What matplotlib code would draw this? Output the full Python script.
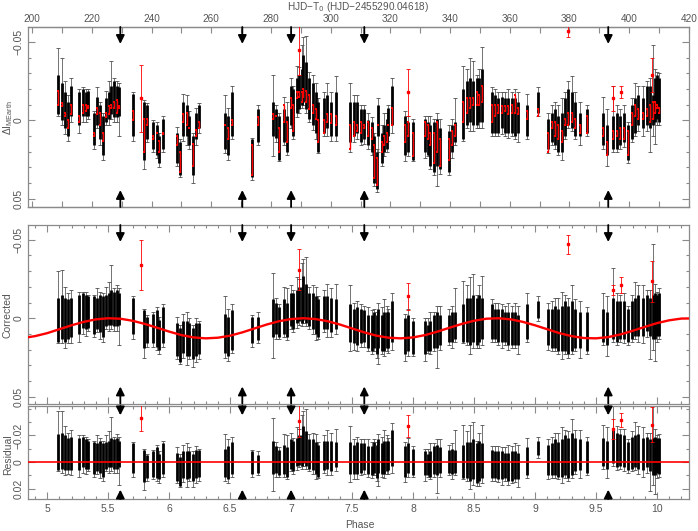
import numpy as np
import matplotlib
matplotlib.use("Agg")
import matplotlib.pyplot as plt
from matplotlib.ticker import MultipleLocator, FixedLocator, FuncFormatter

plt.rcParams['font.family'] = ['Liberation Sans', 'DejaVu Sans']

# one entry per night (column of points)
PHASE = [5.093, 5.120, 5.148, 5.167, 5.194, 5.265, 5.292, 5.320, 5.339, 5.385,
         5.407, 5.434, 5.456, 5.484, 5.505, 5.527, 5.549, 5.576, 5.593, 5.702,
         5.795, 5.822, 5.871, 5.899, 5.921, 5.953, 6.068, 6.090, 6.117, 6.145,
         6.167, 6.194, 6.221, 6.249,
         6.459, 6.486, 6.514, 6.678, 6.732, 6.850, 6.877, 6.904, 6.943, 6.970,
         6.997, 7.019, 7.047, 7.066, 7.087, 7.101, 7.123, 7.150, 7.178, 7.205,
         7.224, 7.271, 7.298, 7.325, 7.366, 7.484, 7.516, 7.544, 7.571, 7.598,
         7.634, 7.661, 7.680, 7.702, 7.716, 7.743, 7.762, 7.784, 7.798, 7.831,
         7.934, 7.962, 8.003, 8.098, 8.120, 8.139, 8.172, 8.194, 8.221, 8.298,
         8.317, 8.344, 8.413, 8.440, 8.467, 8.494, 8.522, 8.544, 8.563, 8.645,
         8.672, 8.699, 8.727, 8.754, 8.781, 8.809, 8.836, 8.863,
         8.932, 9.027, 9.109, 9.137, 9.164, 9.191, 9.218, 9.246, 9.273, 9.301,
         9.328, 9.369, 9.423, 9.560, 9.593, 9.642, 9.669, 9.697, 9.729, 9.765,
         9.792, 9.820, 9.847, 9.888, 9.915, 9.943, 9.964, 9.984, 10.003, 10.019]

# raw MEarth light curve: whisker top, core top, core bottom, whisker bottom
RAW_WLO = [-0.046, -0.040, -0.025, -0.016, -0.027, -0.020, -0.021, -0.020, -0.020, -0.006,
           -0.021, -0.012, -0.005, -0.019, -0.025, -0.038, -0.027, -0.025, -0.024, -0.018,
           -0.013, -0.011, 0.000, 0.001, 0.008, -0.003, 0.004, 0.012, -0.017, -0.016,
           -0.006, 0.008, -0.008, -0.011,
           -0.016, -0.008, -0.022, 0.011, -0.010, -0.029, -0.010, -0.005, -0.015, -0.012,
           -0.027, -0.022, -0.035, -0.034, -0.048, -0.053, -0.054, -0.031, -0.029, -0.024,
           -0.014, -0.018, -0.024, -0.018, -0.028, -0.024, -0.016, -0.016, -0.010, -0.010,
           -0.005, -0.002, 0.008, 0.018, -0.014, 0.003, -0.005, -0.005, -0.010, -0.027,
           -0.006, -0.003, -0.001, -0.003, -0.003, -0.003, -0.001, -0.005, -0.001, 0.003,
           -0.001, -0.014, -0.035, -0.033, -0.040, -0.038, -0.029, -0.033, -0.047, -0.021,
           -0.020, -0.018, -0.018, -0.018, -0.020, -0.018, -0.020, -0.018,
           -0.017, -0.021, -0.005, -0.010, -0.012, -0.010, -0.014, -0.018, -0.025, -0.028,
           -0.018, -0.012, -0.010, -0.015, -0.007, -0.022, -0.010, -0.007, -0.010, 0.001,
           -0.014, -0.024, -0.022, -0.022, -0.025, -0.027, -0.048, -0.033, -0.031, -0.030]
RAW_LO = [-0.029, -0.024, -0.018, -0.012, -0.022, -0.018, -0.020, -0.018, -0.019, -0.005,
          -0.015, -0.010, -0.003, -0.014, -0.018, -0.022, -0.025, -0.022, -0.021, -0.017,
          -0.012, -0.010, 0.001, 0.003, 0.010, -0.001, 0.008, 0.014, -0.012, -0.010,
          -0.003, 0.010, -0.005, -0.010,
          -0.005, -0.003, -0.018, 0.012, -0.007, -0.012, -0.007, -0.003, -0.007, -0.003,
          -0.022, -0.020, -0.027, -0.029, -0.033, -0.042, -0.037, -0.027, -0.024, -0.018,
          -0.012, -0.014, -0.016, -0.012, -0.018, -0.012, -0.012, -0.012, -0.007, -0.007,
          0.000, 0.001, 0.010, 0.020, -0.010, 0.008, 0.003, -0.001, -0.008, -0.022,
          -0.003, 0.001, 0.001, -0.001, 0.001, 0.003, 0.001, -0.001, 0.005, 0.007,
          0.003, 0.001, -0.020, -0.025, -0.027, -0.025, -0.027, -0.027, -0.033, -0.018,
          -0.016, -0.014, -0.015, -0.014, -0.014, -0.014, -0.014, -0.012,
          -0.010, -0.018, -0.001, -0.005, -0.007, -0.003, -0.005, -0.014, -0.020, -0.018,
          -0.012, -0.005, -0.007, -0.005, 0.003, -0.003, -0.005, -0.003, -0.005, 0.003,
          -0.010, -0.014, -0.016, -0.014, -0.022, -0.022, -0.016, -0.027, -0.029, -0.027]
RAW_HI = [-0.004, 0.000, 0.005, 0.010, -0.003, 0.003, -0.003, -0.003, -0.003, 0.016,
          0.003, 0.012, 0.022, 0.001, -0.001, -0.004, -0.002, -0.002, -0.003, 0.010,
          0.025, 0.012, 0.018, 0.022, 0.027, 0.018, 0.027, 0.035, 0.010, 0.010,
          0.016, 0.035, 0.012, 0.005,
          0.018, 0.022, 0.010, 0.036, 0.014, 0.010, 0.011, 0.025, 0.014, 0.020,
          0.003, 0.010, -0.005, -0.007, -0.010, -0.012, -0.007, -0.001, 0.003, 0.008,
          0.020, 0.008, 0.005, 0.010, 0.010, 0.014, 0.010, 0.008, 0.014, 0.012,
          0.016, 0.020, 0.040, 0.044, 0.010, 0.027, 0.020, 0.018, 0.010, 0.003,
          0.022, 0.020, 0.025, 0.020, 0.022, 0.029, 0.033, 0.029, 0.031, 0.033,
          0.020, 0.014, 0.012, 0.003, 0.001, 0.003, 0.003, 0.001, 0.001, 0.008,
          0.008, 0.008, 0.005, 0.008, 0.008, 0.008, 0.010, 0.008,
          0.010, -0.005, 0.018, 0.014, 0.016, 0.020, 0.020, 0.010, 0.003, 0.005,
          0.010, 0.010, 0.008, 0.016, 0.022, 0.018, 0.018, 0.016, 0.014, 0.025,
          0.012, 0.008, 0.003, 0.005, 0.003, 0.005, 0.003, 0.001, -0.001, 0.001]
RAW_WHI = [-0.003, 0.003, 0.009, 0.013, 0.001, 0.008, 0.001, 0.001, -0.001, 0.018,
           0.005, 0.016, 0.025, 0.003, 0.003, -0.001, 0.001, 0.001, 0.010, 0.013,
           0.031, 0.014, 0.020, 0.024, 0.030, 0.020, 0.029, 0.036, 0.013, 0.016,
           0.018, 0.040, 0.016, 0.008,
           0.021, 0.025, 0.012, 0.038, 0.016, 0.023, 0.014, 0.026, 0.016, 0.022,
           0.005, 0.012, -0.002, -0.005, -0.008, -0.010, -0.005, 0.001, 0.006, 0.012,
           0.021, 0.010, 0.010, 0.013, 0.013, 0.020, 0.014, 0.012, 0.016, 0.015,
           0.018, 0.022, 0.042, 0.046, 0.020, 0.029, 0.023, 0.020, 0.013, 0.008,
           0.026, 0.023, 0.026, 0.024, 0.023, 0.031, 0.035, 0.042, 0.034, 0.035,
           0.024, 0.016, 0.013, 0.005, 0.007, 0.007, 0.005, 0.005, 0.005, 0.010,
           0.010, 0.010, 0.009, 0.010, 0.011, 0.010, 0.012, 0.014,
           0.012, -0.003, 0.021, 0.016, 0.018, 0.022, 0.025, 0.012, 0.005, 0.007,
           0.012, 0.016, 0.010, 0.018, 0.029, 0.020, 0.020, 0.018, 0.017, 0.027,
           0.014, 0.010, 0.007, 0.010, 0.007, 0.020, 0.010, 0.015, 0.003, 0.003]

# second (red) photometry in the top panel
RED_LO = [-0.019, -0.011, -0.005, 0.000, -0.010, -0.003, -0.010, -0.010, -0.009, 0.008,
          -0.008, -0.005, 0.008, -0.005, -0.009, -0.010, -0.012, -0.013, -0.009, -0.006,
          -0.001, -0.001, 0.010, 0.008, 0.013, 0.008, 0.010, 0.020, -0.004, -0.005,
          0.005, 0.015, 0.006, 0.001,
          0.003, 0.005, 0.000, 0.016, -0.002, -0.004, -0.003, 0.005, -0.010, 0.001,
          -0.014, -0.010, -0.018, -0.018, -0.018, -0.020, -0.019, -0.016, -0.010, -0.007,
          0.000, 0.000, -0.004, -0.004, -0.003, 0.003, 0.001, 0.003, 0.001, 0.003,
          0.001, 0.005, 0.016, 0.024, 0.003, 0.014, 0.010, 0.008, 0.003, -0.008,
          0.003, 0.001, 0.008, 0.001, 0.003, 0.008, 0.008, 0.001, 0.012, 0.012,
          0.007, 0.003, -0.012, -0.014, -0.014, -0.014, -0.018, -0.016, -0.022, -0.010,
          -0.010, -0.010, -0.009, -0.009, -0.009, -0.010, -0.016, -0.008,
          -0.006, -0.007, 0.008, 0.001, 0.001, 0.003, 0.007, -0.001, -0.005, -0.005,
          -0.001, 0.003, -0.003, 0.005, 0.014, 0.007, 0.007, 0.005, 0.005, 0.007,
          -0.005, -0.010, -0.007, -0.005, -0.007, -0.010, -0.012, -0.012, -0.010, -0.008]
RED_HI = [-0.010, -0.009, -0.003, 0.005, -0.004, 0.001, -0.005, -0.006, -0.008, 0.010,
          -0.004, 0.003, 0.013, -0.002, -0.004, -0.008, -0.008, -0.005, -0.008, 0.000,
          0.020, 0.003, 0.012, 0.008, 0.020, 0.009, 0.016, 0.033, 0.001, 0.003,
          0.005, 0.029, 0.010, 0.005,
          0.003, 0.012, 0.003, 0.035, 0.003, -0.001, -0.003, 0.020, 0.001, 0.014,
          -0.008, 0.007, -0.014, -0.015, -0.012, -0.015, -0.012, -0.007, -0.005, -0.001,
          0.014, 0.008, 0.001, 0.002, 0.003, 0.018, 0.010, 0.007, 0.008, 0.005,
          0.010, 0.012, 0.037, 0.041, 0.003, 0.020, 0.016, 0.014, 0.003, 0.003,
          0.014, 0.010, 0.023, 0.010, 0.012, 0.016, 0.027, 0.020, 0.029, 0.025,
          0.016, 0.010, 0.001, -0.005, -0.008, -0.010, -0.010, -0.010, -0.012, 0.001,
          -0.003, -0.005, -0.005, -0.006, -0.004, -0.005, -0.005, -0.004,
          -0.001, -0.003, 0.020, 0.005, 0.010, 0.012, 0.014, 0.003, 0.003, 0.001,
          0.005, 0.008, 0.008, 0.010, 0.022, 0.012, 0.010, 0.012, 0.012, 0.022,
          0.003, -0.003, -0.001, -0.001, -0.003, 0.001, -0.001, -0.005, -0.008, -0.005]

# systematics-corrected light curve (core top / bottom)
COR_LO = [-0.013, -0.015, -0.013, -0.012, -0.013, -0.015, -0.016, -0.015, -0.014, -0.014,
          -0.013, -0.015, -0.014, -0.015, -0.016, -0.018, -0.017, -0.018, -0.016, -0.013,
          -0.005, -0.001, -0.003, -0.005, 0.001, -0.007, 0.003, 0.006, 0.002, 0.002,
          0.003, 0.006, 0.003, 0.003,
          -0.003, -0.001, -0.005, -0.001, -0.001, -0.012, -0.010, -0.007, -0.012, -0.010,
          -0.016, -0.016, -0.018, -0.020, -0.020, -0.027, -0.022, -0.016, -0.016, -0.014,
          -0.012, -0.014, -0.014, -0.013, -0.012, -0.009, -0.006, -0.007, -0.006, -0.005,
          -0.002, -0.002, -0.004, -0.002, -0.006, -0.002, -0.004, -0.004, -0.004, -0.011,
          0.000, -0.002, 0.002, 0.002, 0.004, 0.002, -0.002, -0.004, -0.002, -0.002,
          -0.004, -0.004, -0.009, -0.013, -0.013, -0.015, -0.013, -0.015, -0.013, -0.009,
          -0.006, -0.006, -0.006, -0.004, -0.004, -0.004, -0.004, -0.002,
          -0.009, -0.011, -0.006, -0.006, -0.008, -0.006, -0.008, -0.011, -0.008, -0.011,
          -0.006, -0.004, -0.004, -0.006, -0.004, -0.013, -0.011, -0.011, -0.011, -0.006,
          -0.011, -0.013, -0.015, -0.013, -0.015, -0.013, -0.015, -0.016, -0.015, -0.016]
COR_HI = [0.015, 0.013, 0.015, 0.013, 0.012, 0.010, 0.006, 0.007, 0.006, 0.010,
          0.007, 0.009, 0.012, 0.005, 0.004, 0.004, 0.005, 0.005, 0.004, 0.010,
          0.019, 0.016, 0.016, 0.018, 0.020, 0.016, 0.024, 0.028, 0.022, 0.024,
          0.024, 0.026, 0.024, 0.023,
          0.022, 0.024, 0.020, 0.016, 0.014, 0.012, 0.010, 0.012, 0.010, 0.012,
          0.005, 0.007, 0.003, 0.002, 0.003, 0.001, 0.003, 0.005, 0.007, 0.010,
          0.012, 0.007, 0.007, 0.009, 0.007, 0.015, 0.016, 0.017, 0.016, 0.015,
          0.019, 0.021, 0.019, 0.023, 0.019, 0.021, 0.021, 0.019, 0.019, 0.015,
          0.023, 0.021, 0.023, 0.023, 0.021, 0.021, 0.019, 0.019, 0.017, 0.015,
          0.015, 0.013, 0.015, 0.015, 0.017, 0.015, 0.017, 0.015, 0.013, 0.013,
          0.013, 0.015, 0.015, 0.015, 0.017, 0.017, 0.017, 0.017,
          0.013, 0.000, 0.017, 0.019, 0.019, 0.021, 0.021, 0.021, 0.023, 0.021,
          0.019, 0.019, 0.021, 0.015, 0.017, 0.013, 0.015, 0.013, 0.013, 0.015,
          0.013, 0.011, 0.011, 0.011, 0.008, 0.011, 0.013, 0.013, 0.011, 0.011]

# residuals after the sinusoid fit (core top / bottom)
RES_LO = [-0.021, -0.022, -0.020, -0.018, -0.019, -0.018, -0.019, -0.017, -0.016, -0.015,
          -0.014, -0.016, -0.014, -0.015, -0.016, -0.018, -0.017, -0.018, -0.016, -0.014,
          -0.009, -0.005, -0.008, -0.011, -0.006, -0.014, -0.007, -0.004, -0.008, -0.008,
          -0.008, -0.006, -0.009, -0.009,
          -0.010, -0.012, -0.015, -0.008, -0.005, -0.016, -0.012, -0.009, -0.013, -0.011,
          -0.017, -0.016, -0.018, -0.020, -0.020, -0.027, -0.023, -0.017, -0.017, -0.015,
          -0.013, -0.016, -0.016, -0.016, -0.015, -0.015, -0.013, -0.015, -0.014, -0.014,
          -0.012, -0.012, -0.015, -0.013, -0.017, -0.014, -0.016, -0.016, -0.016, -0.024,
          -0.012, -0.014, -0.010, -0.008, -0.006, -0.008, -0.012, -0.013, -0.011, -0.009,
          -0.010, -0.009, -0.013, -0.015, -0.015, -0.017, -0.014, -0.016, -0.014, -0.009,
          -0.008, -0.008, -0.008, -0.007, -0.007, -0.008, -0.008, -0.007,
          -0.011, -0.016, -0.013, -0.014, -0.017, -0.015, -0.017, -0.020, -0.018, -0.022,
          -0.018, -0.017, -0.016, -0.018, -0.016, -0.024, -0.022, -0.021, -0.020, -0.015,
          -0.019, -0.020, -0.021, -0.018, -0.019, -0.017, -0.018, -0.019, -0.018, -0.018]
RES_HI = [0.006, 0.005, 0.006, 0.006, 0.006, 0.006, 0.004, 0.005, 0.005, 0.009,
          0.007, 0.008, 0.011, 0.005, 0.004, 0.004, 0.005, 0.005, 0.004, 0.008,
          0.015, 0.012, 0.011, 0.012, 0.013, 0.009, 0.014, 0.018, 0.012, 0.013,
          0.012, 0.014, 0.012, 0.011,
          0.011, 0.013, 0.009, 0.009, 0.008, 0.009, 0.008, 0.010, 0.009, 0.011,
          0.005, 0.007, 0.003, 0.002, 0.003, 0.001, 0.003, 0.005, 0.006, 0.009,
          0.011, 0.006, 0.005, 0.007, 0.004, 0.009, 0.009, 0.009, 0.008, 0.006,
          0.009, 0.010, 0.008, 0.012, 0.008, 0.009, 0.009, 0.007, 0.006, 0.003,
          0.011, 0.008, 0.010, 0.010, 0.010, 0.011, 0.009, 0.010, 0.008, 0.008,
          0.009, 0.008, 0.012, 0.012, 0.014, 0.013, 0.016, 0.014, 0.012, 0.012,
          0.012, 0.013, 0.013, 0.012, 0.014, 0.014, 0.013, 0.013,
          0.010, -0.005, 0.010, 0.010, 0.010, 0.011, 0.011, 0.010, 0.012, 0.010,
          0.007, 0.006, 0.008, 0.003, 0.005, 0.001, 0.004, 0.003, 0.004, 0.006,
          0.005, 0.004, 0.005, 0.006, 0.004, 0.007, 0.010, 0.010, 0.008, 0.009]

# isolated red points with large error bars (value, half error) per panel
OUT_PHASE = [5.770, 7.066, 7.962, 9.273, 9.642, 9.705, 9.957]
OUT_RAW = [-0.014, -0.045, -0.018, -0.057, -0.014, -0.018, -0.029]
OUT_RAW_ERR = [0.0215, 0.016, 0.015, 0.004, 0.008, 0.004, 0.011]
OUT_COR = [-0.034, -0.031, -0.014, -0.047, -0.018, -0.021, -0.0235]
OUT_COR_ERR = [0.016, 0.013, 0.0085, 0.006, 0.003, 0.005, 0.013]
OUT_RES = [-0.033, -0.031, -0.027, -0.053, -0.0245, -0.0316, -0.028]
OUT_RES_ERR = [0.010, 0.012, 0.008, 0.006, 0.0075, 0.005, 0.013]

# fitted sinusoid, every 0.1 in phase
MODEL_PHASE = [4.8, 4.9, 5.0, 5.1, 5.2, 5.3, 5.4, 5.5, 5.6, 5.7, 5.8, 5.9, 6.0, 6.1,
               6.2, 6.3, 6.4, 6.5, 6.6, 6.7, 6.8, 6.9, 7.0, 7.1, 7.2, 7.3, 7.4, 7.5,
               7.6, 7.7, 7.8, 7.9, 8.0, 8.1, 8.2, 8.3, 8.4, 8.5, 8.6, 8.7, 8.8, 8.9,
               9.0, 9.1, 9.2, 9.3, 9.4, 9.5, 9.6, 9.7, 9.8, 9.9, 10.0, 10.1, 10.2, 10.3]
MODEL_VAL = [0.0126, 0.0114, 0.0095, 0.0070, 0.0045, 0.0023, 0.0007, 0.0000, 0.0003, 0.0016,
             0.0036, 0.0060, 0.0085, 0.0107, 0.0122, 0.0128, 0.0124, 0.0111, 0.0090, 0.0065,
             0.0040, 0.0019, 0.0005, 0.0000, 0.0005, 0.0019, 0.0040, 0.0065, 0.0090, 0.0111,
             0.0124, 0.0128, 0.0122, 0.0107, 0.0085, 0.0060, 0.0036, 0.0016, 0.0003, 0.0000,
             0.0007, 0.0023, 0.0045, 0.0070, 0.0095, 0.0114, 0.0126, 0.0128, 0.0120, 0.0103,
             0.0080, 0.0055, 0.0031, 0.0013, 0.0002, 0.0001]

ARROW_PHASE = [5.6, 6.6, 7.0, 7.6, 9.6]
HJD_MAJOR = [200, 220, 240, 260, 280, 300, 320, 340, 360, 380, 400, 420]
HJD_MINOR = [210, 230, 250, 270, 290, 310, 330, 350, 370, 390, 410]

n = len(PHASE)
for arr in (RAW_WLO, RAW_LO, RAW_HI, RAW_WHI, RED_LO, RED_HI, COR_LO, COR_HI, RES_LO, RES_HI):
    assert len(arr) == n, len(arr)
assert len(MODEL_PHASE) == len(MODEL_VAL)

x = np.array(PHASE)
raw_lo, raw_hi = np.array(RAW_LO), np.array(RAW_HI)
err_up = raw_lo - np.array(RAW_WLO)     # whisker beyond the core, same errors in every panel
err_dn = np.array(RAW_WHI) - raw_hi

FRAME = "#8a8a8a"
TEXT = "#555555"
XLIM = (4.843, 10.262)


def style(ax, ymaj, ymin):
    for s in ax.spines.values():
        s.set_color(FRAME)
        s.set_linewidth(0.9)
    ax.set_xlim(*XLIM)
    ax.xaxis.set_major_locator(MultipleLocator(0.5))
    ax.xaxis.set_minor_locator(MultipleLocator(0.1))
    ax.yaxis.set_major_locator(FixedLocator(ymaj))
    ax.yaxis.set_minor_locator(MultipleLocator(ymin))
    ax.yaxis.set_major_formatter(FuncFormatter(
        lambda v, p: "0" if abs(v) < 1e-9 else ("%g" % v).replace("-", "\u2212")))
    ax.xaxis.set_major_formatter(FuncFormatter(lambda v, p: "%g" % v))
    ax.tick_params(which="both", direction="in", top=True, right=True,
                   colors=FRAME, labelcolor=TEXT, labelsize=7.5, width=0.8)
    ax.tick_params(which="major", length=5)
    ax.tick_params(which="minor", length=2.5)
    ax.tick_params(axis="y", labelrotation=90, pad=3)
    for lab in ax.get_yticklabels():
        lab.set_va("center")


def columns(ax, lo, hi):
    wlo, whi = lo - err_up, hi + err_dn
    ax.vlines(x, wlo, whi, colors="0.3", lw=0.55, zorder=2)
    ax.plot(x, wlo, "_", color="0.3", ms=2.5, mew=0.6, zorder=2)
    ax.plot(x, whi, "_", color="0.3", ms=2.5, mew=0.6, zorder=2)
    ax.vlines(x, lo, hi, colors="k", lw=2.0, zorder=3)


def outliers(ax, vals, errs):
    ax.errorbar(OUT_PHASE, vals, yerr=errs, fmt="s", ms=1.8, color="red",
                ecolor="red", elinewidth=0.6, capsize=1.5, capthick=0.6, zorder=4)


def arrows(ax, frac):
    tr = ax.get_xaxis_transform()
    ap = dict(arrowstyle="-|>,head_length=0.5,head_width=0.25", lw=1.3, color="k",
              shrinkA=0, shrinkB=0, mutation_scale=10)
    for xa in ARROW_PHASE:
        ax.annotate("", xy=(xa, 1 - frac), xytext=(xa, 1.0), xycoords=tr,
                    textcoords=tr, arrowprops=ap, zorder=6)
        ax.annotate("", xy=(xa, frac), xytext=(xa, 0.0), xycoords=tr,
                    textcoords=tr, arrowprops=ap, zorder=6)


fig = plt.figure(figsize=(6.98, 5.31), dpi=100)
ax_raw = fig.add_axes([0.0401, 0.6102, 0.9470, 0.3390])
ax_cor = fig.add_axes([0.0401, 0.2401, 0.9470, 0.3362])
ax_res = fig.add_axes([0.0401, 0.0603, 0.9470, 0.1751])

# --- top: raw light curve, HJD ticks
columns(ax_raw, raw_lo, raw_hi)
ax_raw.vlines(x, RED_LO, RED_HI, colors="red", lw=1.0, zorder=4)
ax_raw.plot(x, RED_LO, "s", color="red", ms=1.5, mew=0, zorder=4)
ax_raw.plot(x, RED_HI, "s", color="red", ms=1.5, mew=0, zorder=4)
outliers(ax_raw, OUT_RAW, OUT_RAW_ERR)
style(ax_raw, [-0.05, 0, 0.05], 0.01)
ax_raw.set_ylim(0.0553, -0.0596)
ax_raw.tick_params(axis="x", which="both", bottom=False, top=False, labelbottom=False)
to_hjd = (lambda p: 40.86 * p + 0.73, lambda h: (h - 0.73) / 40.86)
for where in ("top", "bottom"):
    sec = ax_raw.secondary_xaxis(where, functions=to_hjd)
    sec.spines[where].set_color(FRAME)
    sec.spines[where].set_linewidth(0.9)
    sec.xaxis.set_major_locator(FixedLocator(HJD_MAJOR))
    sec.xaxis.set_minor_locator(FixedLocator(HJD_MINOR))
    sec.tick_params(which="both", direction="in", colors=FRAME, labelcolor=TEXT,
                    labelsize=7.2, width=0.8, length=4, pad=2.5)
    if where == "bottom":
        sec.tick_params(labelbottom=False)
arrows(ax_raw, 0.094)

# --- middle: corrected light curve with sinusoid
columns(ax_cor, np.array(COR_LO), np.array(COR_HI))
outliers(ax_cor, OUT_COR, OUT_COR_ERR)
ax_cor.plot(MODEL_PHASE, MODEL_VAL, color="red", lw=1.7, zorder=5)
style(ax_cor, [-0.05, 0, 0.05], 0.01)
ax_cor.set_ylim(0.0543, -0.0594)
ax_cor.tick_params(axis="x", labelbottom=False)
arrows(ax_cor, 0.095)

# --- bottom: residuals
columns(ax_res, np.array(RES_LO), np.array(RES_HI))
outliers(ax_res, OUT_RES, OUT_RES_ERR)
ax_res.axhline(0, color="red", lw=1.2, zorder=5)
style(ax_res, [-0.02, 0, 0.02], 0.01)
ax_res.set_ylim(0.0276, -0.0420)
arrows(ax_res, 0.10)

fig.text(0.5135, 1 - 7 / 531, "HJD\u2212T$_0$ (HJD\u22122455290.04618)",
         ha="center", va="center", fontsize=7.2, color=TEXT)
fig.text(0.515, 1 - 525 / 531, "Phase", ha="center", va="center", fontsize=7.5, color=TEXT)
fig.text(8 / 698, 1 - 118 / 531, "\u0394I$_{\\mathregular{MEarth}}$", rotation=90,
         ha="center", va="center", fontsize=7.5, color=TEXT)
fig.text(8 / 698, 1 - 315 / 531, "Corrected", rotation=90,
         ha="center", va="center", fontsize=7.5, color=TEXT)
fig.text(8 / 698, 1 - 455 / 531, "Residual", rotation=90,
         ha="center", va="center", fontsize=7.5, color=TEXT)

fig.savefig("out.png", dpi=100)
